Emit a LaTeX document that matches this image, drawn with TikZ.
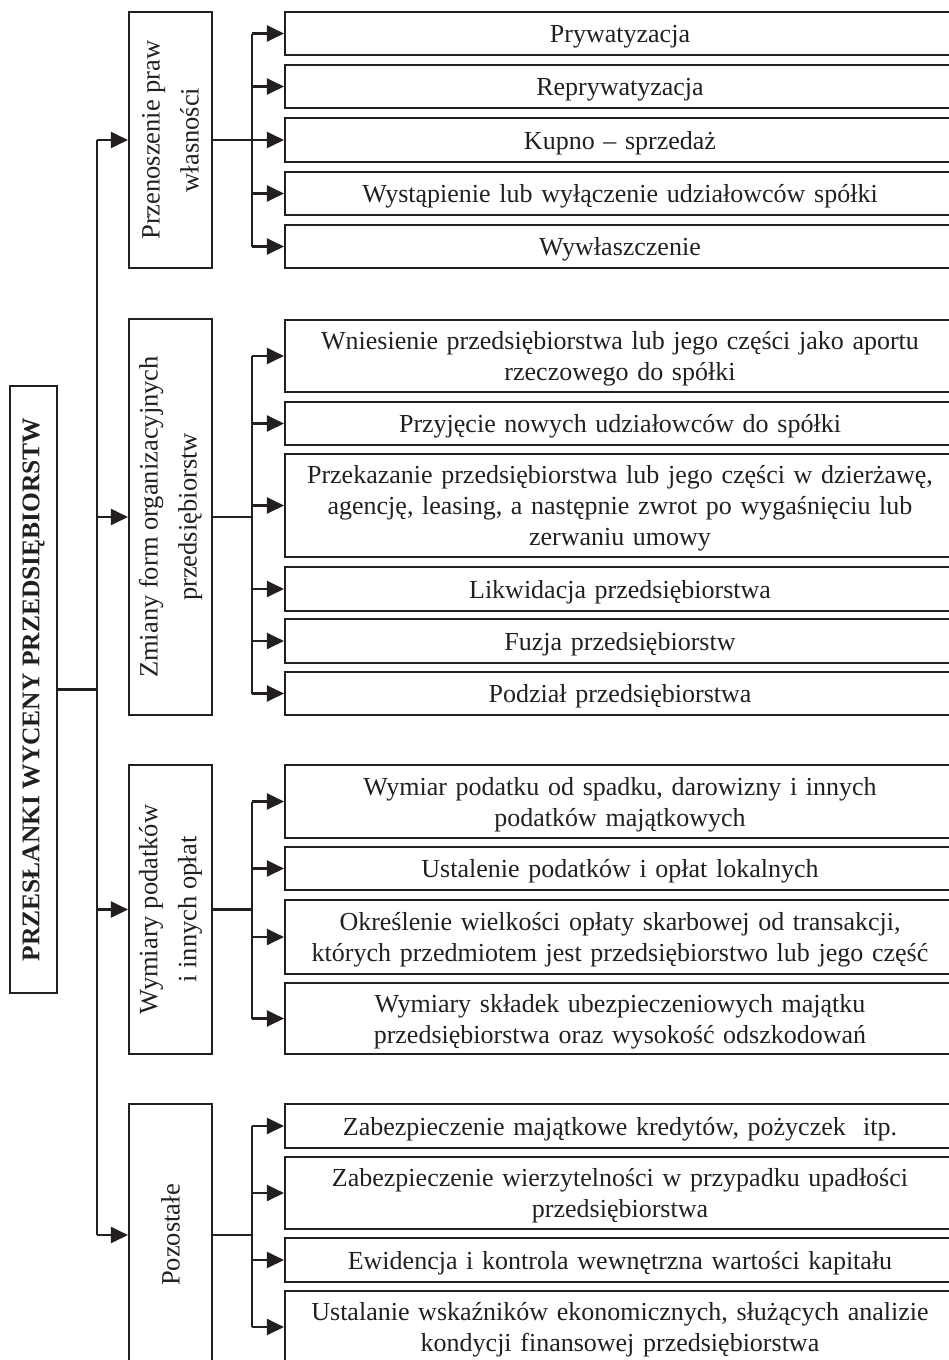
\documentclass[tikz,border=0pt]{standalone}
\usepackage{fontspec}
\setmainfont{Liberation Serif}
\usetikzlibrary{arrows.meta}
\definecolor{ink}{HTML}{231F20}
% trailing negative skip: lowers the text block slightly inside its frame
\newcommand\boxtail{\par\vspace*{-6pt}}
\begin{document}
\begin{tikzpicture}[x=1pt,y=-1pt,
  box/.style={draw=ink, line width=2.1pt, inner sep=2pt, align=center,
    text=ink, font=\fontsize{26}{31}\selectfont},
  rbox/.style={box, minimum width=670, text width=660,
    execute at end node=\boxtail},
  lbox/.style={box, rotate=90, minimum height=83, font=\fontsize{26.5}{39}\selectfont},
  mbox/.style={box, rotate=90, minimum height=47, font=\fontsize{25.5}{30}\selectfont\bfseries},
  link/.style={draw=ink, line width=2.1pt},
  arr/.style={link, -{Triangle[length=17pt,width=16pt]}}]
\useasboundingbox (0,0) rectangle (949,1360);
\clip (0,0) rectangle (949,1360);

% root
\node[mbox, minimum width=607] (main) at (33.5,689.5) {PRZESŁANKI WYCENY PRZEDSIĘBIORSTW};

% first level
\node[lbox, minimum width=256] (l1) at (170.5,140) {Przenoszenie praw\\własności};
\node[lbox, minimum width=396] (l2) at (170.5,517) {Zmiany form organizacyjnych\\przedsiębiorstw};
\node[lbox, minimum width=289] (l3) at (170.5,909.5) {Wymiary podatków\\i innych opłat};
\node[lbox, minimum width=262] (l4) at (170.5,1235) {Pozostałe};

% second level
\node[rbox, minimum height=43] (p1) at (620,33.5) {Prywatyzacja};
\node[rbox, minimum height=43] (p2) at (620,86.5) {Reprywatyzacja};
\node[rbox, minimum height=44] (p3) at (620,140) {Kupno – sprzedaż};
\node[rbox, minimum height=43] (p4) at (620,193.5) {Wystąpienie lub wyłączenie udziałowców spółki};
\node[rbox, minimum height=43] (p5) at (620,246.5) {Wywłaszczenie};

\node[rbox, minimum height=72] (z1) at (620,356) {Wniesienie przedsiębiorstwa lub jego części jako aportu\\rzeczowego do spółki};
\node[rbox, minimum height=43] (z2) at (620,423.5) {Przyjęcie nowych udziałowców do spółki};
\node[rbox, minimum height=103] (z3) at (620,505.5) {Przekazanie przedsiębiorstwa lub jego części w dzierżawę,\\agencję, leasing, a następnie zwrot po wygaśnięciu lub\\zerwaniu umowy};
\node[rbox, minimum height=44] (z4) at (620,589) {Likwidacja przedsiębiorstwa};
\node[rbox, minimum height=44] (z5) at (620,641) {Fuzja przedsiębiorstw};
\node[rbox, minimum height=43] (z6) at (620,693.5) {Podział przedsiębiorstwa};

\node[rbox, minimum height=73] (w1) at (620,801.5) {Wymiar podatku od spadku, darowizny i innych\\podatków majątkowych};
\node[rbox, minimum height=43] (w2) at (620,868.5) {Ustalenie podatków i opłat lokalnych};
\node[rbox, minimum height=74] (w3) at (620,937) {Określenie wielkości opłaty skarbowej od transakcji,\\których przedmiotem jest przedsiębiorstwo lub jego część};
\node[rbox, minimum height=71] (w4) at (620,1018.5) {Wymiary składek ubezpieczeniowych majątku\\przedsiębiorstwa oraz wysokość odszkodowań};

\node[rbox, minimum height=44] (o1) at (620,1126) {Zabezpieczenie majątkowe kredytów, pożyczek\ \ itp.};
\node[rbox, minimum height=72] (o2) at (620,1193) {Zabezpieczenie wierzytelności w przypadku upadłości\\przedsiębiorstwa};
\node[rbox, minimum height=44] (o3) at (620,1260) {Ewidencja i kontrola wewnętrzna wartości kapitału};
\node[rbox, minimum height=72] (o4) at (620,1327) {Ustalanie wskaźników ekonomicznych, służących analizie\\kondycji finansowej przedsiębiorstwa};

% trunks
\coordinate (tr) at (97,0);
\coordinate (sb) at (252,0);

\draw[link] (main.south) -- (main.south -| tr);
\draw[link] (l1.north -| tr) -- (l4.north -| tr);
\foreach \n in {l1,l2,l3,l4}
  \draw[arr] (\n.north -| tr) -- (\n.north);

% branches from first level to second level
\foreach \g/\first/\last/\items in {
    l1/p1/p5/{p1,p2,p3,p4,p5},
    l2/z1/z6/{z1,z2,z3,z4,z5,z6},
    l3/w1/w4/{w1,w2,w3,w4},
    l4/o1/o4/{o1,o2,o3,o4}} {
  \draw[link] (\g.south) -- (\g.south -| sb);
  \draw[link] (\first.west -| sb) -- (\last.west -| sb);
  \foreach \n in \items
    \draw[arr] (\n.west -| sb) -- (\n.west);
}
\end{tikzpicture}
\end{document}
